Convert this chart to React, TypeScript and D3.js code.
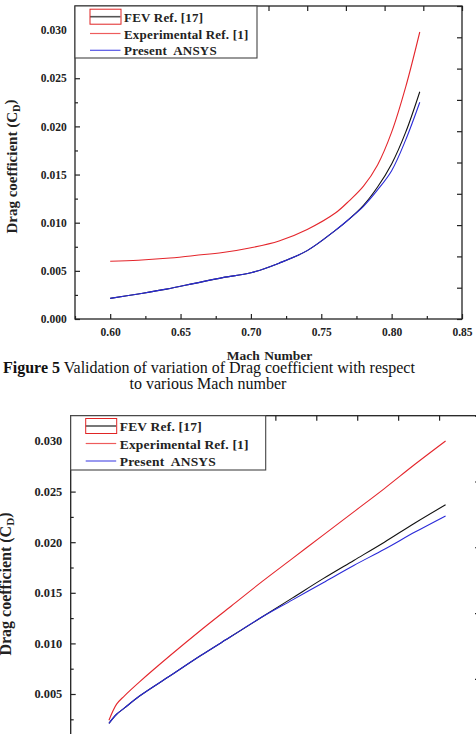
import React, { useEffect, useRef } from 'react';
import * as d3 from 'd3';

// Upper panel: drag coefficient against Mach number
const machTop = [0.60, 0.62, 0.64, 0.66, 0.68, 0.70, 0.72, 0.74, 0.76, 0.77, 0.78, 0.79, 0.80, 0.81, 0.82];
const fevTop = [0.00214, 0.0026, 0.0031, 0.0037, 0.0043, 0.0048, 0.0058, 0.0071, 0.0092, 0.0104, 0.0118, 0.0137, 0.0161, 0.0194, 0.0236];
const expTop = [0.0060, 0.0061, 0.0063, 0.0066, 0.0069, 0.0074, 0.0081, 0.0093, 0.0110, 0.0123, 0.0138, 0.0160, 0.0194, 0.0241, 0.0298];
const ansysTop = [0.00214, 0.0026, 0.0031, 0.0037, 0.0043, 0.0048, 0.0058, 0.0071, 0.0092, 0.0104, 0.0117, 0.0134, 0.0154, 0.0186, 0.0225];

// Lower panel
const machBottom = [0.60, 0.605, 0.61, 0.62, 0.64, 0.66, 0.68, 0.70, 0.72, 0.74, 0.76, 0.78, 0.80, 0.82];
const fevBottom = [0.0021, 0.0030, 0.0036, 0.0048, 0.0068, 0.0088, 0.0107, 0.0126, 0.0145, 0.0164, 0.0182, 0.0200, 0.0219, 0.0237];
const expBottom = [0.0024, 0.0040, 0.0048, 0.0062, 0.0088, 0.0113, 0.0137, 0.0161, 0.0184, 0.0207, 0.0230, 0.0253, 0.0277, 0.0300];
const ansysBottom = [0.0021, 0.0030, 0.0036, 0.0048, 0.0068, 0.0088, 0.0107, 0.0126, 0.0143, 0.0160, 0.0177, 0.0193, 0.0210, 0.0226];

const legendLabels = ['FEV Ref. [17]', 'Experimental Ref. [1]', 'Present  ANSYS'];
const xMajorTicks = [0.60, 0.65, 0.70, 0.75, 0.80, 0.85];
const yMajorTicks = [0, 0.005, 0.010, 0.015, 0.020, 0.025, 0.030];

const serif = '"Liberation Serif", "Times New Roman", serif';

function drawPanel(root, p) {
  const x = d3.scaleLinear().domain(p.xDomain).range([p.left, p.right]);
  const y = d3.scaleLinear().domain([0, 0.0325]).range([p.bottom, p.top]);
  const g = root.append('g');

  const line = d3.line().x(d => x(d[0])).y(d => y(d[1])).curve(d3.curveCatmullRom.alpha(0.5));
  const series = [
    { values: p.fev, color: '#111', width: 1.1 },
    { values: p.exp, color: '#e4262c', width: 1.1 },
    { values: p.ansys, color: '#2a2ad8', width: 1.1 },
  ];
  series.forEach(s => {
    g.append('path')
      .datum(p.xData.map((m, i) => [m, s.values[i]]))
      .attr('d', line)
      .attr('fill', 'none')
      .attr('stroke', s.color)
      .attr('stroke-width', s.width);
  });

  const tickStyle = sel => {
    sel.select('.domain').remove();
    sel.selectAll('line').attr('stroke', '#222').attr('stroke-width', 1.2);
    sel.selectAll('text')
      .attr('fill', '#222')
      .style('font-family', serif)
      .style('font-weight', 'bold')
      .style('font-size', `${p.tickSize}px`);
  };

  const minorX = d3.range(0.575, 0.86, 0.05);
  const minorY = d3.range(0.0025, 0.0325, 0.005);

  // bottom axis, ticks pointing inward
  g.append('g').attr('transform', `translate(0,${p.bottom})`)
    .call(d3.axisBottom(x)
      .tickValues(xMajorTicks.filter(v => v <= p.xDomain[1] + 1e-9))
      .tickSizeInner(-5).tickSizeOuter(0).tickPadding(p.xPad)
      .tickFormat(p.xLabels ? d3.format('.2f') : () => ''))
    .call(tickStyle);
  g.append('g').attr('transform', `translate(0,${p.bottom})`)
    .call(d3.axisBottom(x).tickValues(minorX.filter(v => v <= p.xDomain[1])).tickSizeInner(-3).tickSizeOuter(0).tickFormat(() => ''))
    .call(tickStyle);

  // left axis
  g.append('g').attr('transform', `translate(${p.left},0)`)
    .call(d3.axisLeft(y).tickValues(yMajorTicks).tickSizeInner(-5).tickSizeOuter(0).tickPadding(p.yPad).tickFormat(d3.format('.3f')))
    .call(tickStyle);
  g.append('g').attr('transform', `translate(${p.left},0)`)
    .call(d3.axisLeft(y).tickValues(minorY).tickSizeInner(-3).tickSizeOuter(0).tickFormat(() => ''))
    .call(tickStyle);

  // unlabeled top and right axes
  const xt = d3.scaleLinear().domain([0, 10]).range([p.left, p.right]);
  g.append('g').attr('transform', `translate(0,${p.top})`)
    .call(d3.axisTop(xt).ticks(10).tickSizeInner(-5).tickSizeOuter(0).tickFormat(() => ''))
    .call(tickStyle);
  const yr = d3.scaleLinear().domain([0, p.rightIntervals]).range([p.bottom, p.top]);
  g.append('g').attr('transform', `translate(${p.right},0)`)
    .call(d3.axisRight(yr).ticks(p.rightIntervals).tickSizeInner(-5).tickSizeOuter(0).tickFormat(() => ''))
    .call(tickStyle);

  g.append('rect')
    .attr('x', p.left).attr('y', p.top)
    .attr('width', p.right - p.left).attr('height', p.bottom - p.top)
    .attr('fill', 'none').attr('stroke', '#222').attr('stroke-width', 1.3);

  // y title
  const yt = g.append('text')
    .attr('transform', `translate(${p.titleX},${p.titleY}) rotate(-90)`)
    .attr('text-anchor', 'middle')
    .attr('fill', '#222')
    .style('font-family', serif).style('font-weight', 'bold').style('font-size', `${p.titleSize}px`);
  yt.append('tspan').text('Drag coefficient (C');
  yt.append('tspan').attr('dy', '0.3em').style('font-size', `${p.titleSize * 0.7}px`).text('D');
  yt.append('tspan').attr('dy', '-0.3em').text(')');

  if (p.xTitleY) {
    g.append('text')
      .attr('x', (p.left + p.right) / 2 + 1).attr('y', p.xTitleY)
      .attr('text-anchor', 'middle').attr('fill', '#222')
      .style('font-family', serif).style('font-weight', 'bold').style('font-size', '13.5px')
      .style('word-spacing', '1px')
      .text('Mach Number');
  }

  // legend
  const lg = g.append('g');
  lg.append('rect')
    .attr('x', p.left).attr('y', p.top)
    .attr('width', p.legendW).attr('height', p.legendH)
    .attr('fill', '#fff').attr('stroke', '#444').attr('stroke-width', 1.1);
  const sampleColors = ['#555', '#ee5c5c', '#5555e6'];
  legendLabels.forEach((label, i) => {
    const ly = p.legendRow0 + i * p.legendStep;
    lg.append('line')
      .attr('x1', p.left + 15).attr('x2', p.left + 45.5)
      .attr('y1', ly).attr('y2', ly)
      .attr('stroke', sampleColors[i]).attr('stroke-width', i === 0 ? 1.6 : 1.2);
    lg.append('text')
      .attr('x', p.left + 49).attr('y', ly + 5)
      .attr('fill', '#222')
      .style('font-family', serif).style('font-weight', 'bold').style('font-size', `${p.legendSize}px`)
      .style('white-space', 'pre')
      .style('letter-spacing', '0.2px')
      .text(label);
  });
  lg.append('rect')
    .attr('x', p.left + 15).attr('y', p.legendRow0 - 7.5)
    .attr('width', 31).attr('height', 15)
    .attr('fill', 'none').attr('stroke', '#e02424').attr('stroke-width', 1);
}

export default function App() {
  const svgRef = useRef(null);

  useEffect(() => {
    const svg = d3.select(svgRef.current);
    svg.selectAll('*').remove();
    svg.append('rect').attr('width', 476).attr('height', 734).attr('fill', '#fff');

    drawPanel(svg, {
      left: 75, right: 462, top: 6, bottom: 319,
      xDomain: [0.575, 0.85], xData: machTop, xLabels: true,
      fev: fevTop, exp: expTop, ansys: ansysTop,
      tickSize: 11.5, xPad: 8.5, yPad: 8.3, rightIntervals: 10,
      titleX: 16.7, titleY: 166.5, titleSize: 15,
      xTitleY: 360,
      legendW: 182, legendH: 52, legendRow0: 16.7, legendStep: 16.8, legendSize: 13,
    });

    // lower panel continues below the page edge, so its x labels are left out
    drawPanel(svg, {
      left: 70.7, right: 480, top: 415.7, bottom: 744.6,
      xDomain: [0.575, 0.8425], xData: machBottom, xLabels: false,
      fev: fevBottom, exp: expBottom, ansys: ansysBottom,
      tickSize: 12.4, xPad: 9, yPad: 8.4, rightIntervals: 5,
      titleX: 11, titleY: 584, titleSize: 16,
      xTitleY: 0,
      legendW: 195, legendH: 54.3, legendRow0: 426, legendStep: 17.5, legendSize: 13.5,
    });

    // figure caption between the panels
    const cap = svg.append('text')
      .attr('x', 3).attr('y', 372.5)
      .attr('fill', '#111')
      .style('font-family', serif).style('font-size', '16px');
    cap.append('tspan').style('font-weight', 'bold').text('Figure 5');
    cap.append('tspan').text(' Validation of variation of Drag coefficient with respect');
    svg.append('text')
      .attr('x', 208).attr('y', 388.5)
      .attr('text-anchor', 'middle').attr('fill', '#111')
      .style('font-family', serif).style('font-size', '16px')
      .text('to various Mach number');
  }, []);

  return (
    <svg
      ref={svgRef}
      width={476}
      height={734}
      style={{ position: 'absolute', left: 0, top: 0, overflow: 'hidden' }}
    />
  );
}
